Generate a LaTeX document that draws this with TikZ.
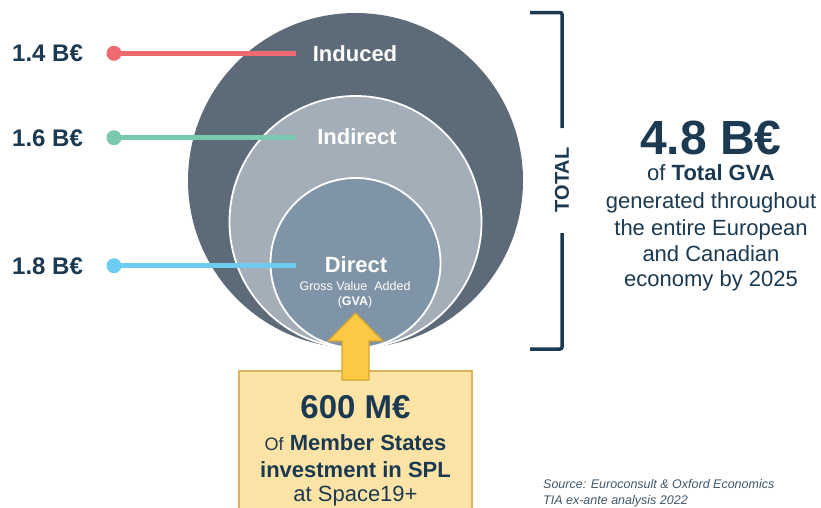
\documentclass[tikz,border=0pt]{standalone}
\usepackage{fontspec}
\setmainfont{Liberation Sans}
\definecolor{navy}{HTML}{1B3A52}
\definecolor{ringout}{HTML}{5D6B79}
\definecolor{ringmid}{HTML}{A3AEB8}
\definecolor{ringin}{HTML}{8094A7}
\definecolor{redline}{HTML}{EE6A6E}
\definecolor{greenline}{HTML}{79C9AE}
\definecolor{blueline}{HTML}{6DCDF0}
\definecolor{arrowfill}{HTML}{FDC843}
\definecolor{arrowedge}{HTML}{D4A633}
\definecolor{boxfill}{HTML}{FDE4A6}
\definecolor{boxedge}{HTML}{D9B45B}
\tikzset{
  value/.style={anchor=base west, text=navy, font=\fontsize{24}{28}\selectfont\bfseries, inner sep=0pt},
  ring/.style={anchor=base, text=white, font=\fontsize{22}{26}\selectfont\bfseries, inner sep=0pt},
  dot/.style={circle, inner sep=0pt, minimum size=15pt},
  lead/.style={line width=5pt},
  boxtext/.style={anchor=base, text=navy, font=\fontsize{22}{26}\selectfont, inner sep=0pt}
}
\begin{document}
\begin{tikzpicture}[x=1pt,y=-1pt]
      \useasboundingbox (0,0) rectangle (821,507);
      \clip (0,0) rectangle (821,507);
      % rings
      \fill[ringout] (355.5,180.5) circle (167.5);
      \draw[white, line width=1.8pt, fill=ringmid] (355.5,222) circle (126);
      \draw[white, line width=1.8pt, fill=ringin] (355.5,263) circle (85);
      % ring labels
      \node[ring] (induced) at (355,61) {Induced};
      \node[ring] (indirect) at (357,144) {Indirect};
      \node[ring] (direct) at (356,272) {Direct};
      \node[anchor=base, text=white, font=\fontsize{12.5}{14}\selectfont, inner sep=0pt] (gross) at (355,290) {Gross Value\ \ Added};
      \node[anchor=base, text=white, font=\fontsize{12.5}{14}\selectfont, inner sep=0pt] (gva) at (355,305) {(\textbf{GVA})};
      % values
      \node[value] (v1) at (12,61.6) {1.4 B€};
      \node[value] (v2) at (12,146) {1.6 B€};
      \node[value] (v3) at (12,274) {1.8 B€};
      \node[dot, fill=redline] (d1) at (114,53.3) {};
      \node[dot, fill=greenline] (d2) at (114,137.7) {};
      \node[dot, fill=blueline] (d3) at (114,265.7) {};
      \coordinate (e1) at (296,53.3);
      \coordinate (e2) at (296,137.7);
      \coordinate (e3) at (296,265.7);
      \draw[lead, redline] (d1.center) -- (e1);
      \draw[lead, greenline] (d2.center) -- (e2);
      \draw[lead, blueline] (d3.center) -- (e3);
      % investment box
      \draw[boxedge, line width=1.5pt, fill=boxfill] (239,371) rectangle (472,520);
      \draw[arrowedge, line width=1.3pt, fill=arrowfill]
        (355.5,313) -- (383,341) -- (369,341) -- (369,380) -- (342,380) -- (342,341) -- (328,341) -- cycle;
      \node[boxtext, font=\fontsize{33}{36}\selectfont\bfseries] (invest) at (355.5,418) {600\ M€};
      \node[boxtext] (member) at (355.5,450) {{\fontsize{18}{20}\selectfont Of} \textbf{Member States}};
      \node[boxtext, font=\fontsize{22}{26}\selectfont\bfseries] (spl) at (355.5,477) {investment in SPL};
      \node[boxtext] (space) at (355.5,501) {at Space19+};
      % total bracket
      \draw[navy, line width=3.5pt, rounded corners=2pt] (530,12.5) -- (562,12.5) -- (562,128);
      \draw[navy, line width=3.5pt, rounded corners=2pt] (562,233) -- (562,349) -- (530,349);
      \node[rotate=90, text=navy, font=\fontsize{20}{24}\selectfont\bfseries, inner sep=0pt] (total) at (562,180) {TOTAL};
      % total text
      \node[anchor=base, text=navy, font=\fontsize{48}{52}\selectfont\bfseries, inner sep=0pt, text depth=0pt] (sum) at (711,154) {4.8 B€};
      \node[anchor=base, text=navy, font=\fontsize{22}{26}\selectfont, inner sep=0pt, text height=16pt] (ofgva) at (711,180) {of \textbf{Total GVA}};
      \node[anchor=base, text=navy, font=\fontsize{22}{26}\selectfont, inner sep=0pt] (gen) at (711,208) {generated throughout};
      \node[anchor=base, text=navy, font=\fontsize{22}{26}\selectfont, inner sep=0pt] (entire) at (711,235) {the entire European};
      \node[anchor=base, text=navy, font=\fontsize{22}{26}\selectfont, inner sep=0pt] (canada) at (711,261) {and Canadian};
      \node[anchor=base, text=navy, font=\fontsize{22}{26}\selectfont, inner sep=0pt] (economy) at (711,286) {economy by 2025};
      % source
      \node[anchor=base west, text=navy!85, font=\fontsize{12.5}{15}\selectfont\itshape, align=left, inner sep=0pt] (source) at (543,488) {Source: Euroconsult \& Oxford Economics};
      \node[anchor=base west, text=navy!85, font=\fontsize{12.5}{15}\selectfont\itshape, align=left, inner sep=0pt] (tia) at (543,504) {TIA ex-ante analysis 2022};
    \end{tikzpicture}
\end{document}
